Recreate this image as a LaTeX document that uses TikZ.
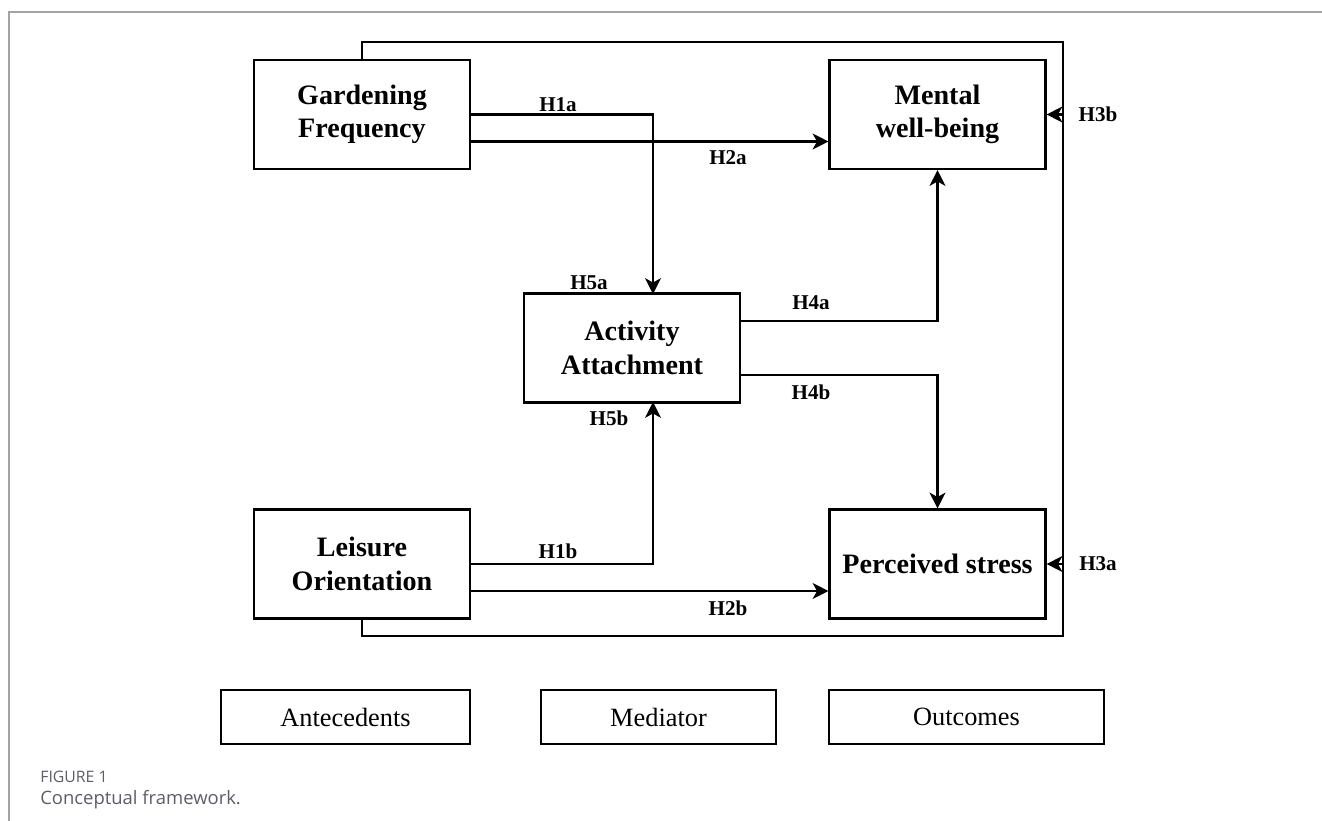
\documentclass[tikz,border=0pt]{standalone}
\usepackage{fontspec}
\setmainfont{Liberation Serif}
\newfontfamily\capfont{Open Sans}
\usetikzlibrary{arrows.meta}
\definecolor{framegray}{HTML}{A3A4AA}
\definecolor{capgray}{HTML}{5B5E69}
\begin{document}
\begin{tikzpicture}[x=0.02cm, y=-0.02cm,
    box/.style={draw, line width=1.2pt, minimum width=4.32cm, minimum height=2.18cm,
        align=center, font=\fontsize{16}{19}\selectfont\bfseries},
    legendbox/.style={draw, line width=1.2pt, minimum height=1.08cm,
        font=\fontsize{15}{18}\selectfont},
    hyp/.style={font=\fontsize{12}{14}\selectfont\bfseries},
    arr/.style={line width=1.2pt, -{Stealth[length=9pt, width=9pt, inset=2.5pt]}},
    link/.style={line width=1.2pt}]
    \useasboundingbox (0,0) rectangle (1322,821);

    % Figure frame
    \draw[framegray, line width=0.8pt] (1322,12) -- (9,12) -- (9,821);

    % Constructs
    \node[box] (gf) at (362,114.5) {Gardening\\Frequency};
    \node[box] (mwb) at (937.5,114.5) {Mental\\well-being};
    \node[box] (aa) at (632,348) {Activity\\Attachment};
    \node[box] (lo) at (362,564) {Leisure\\Orientation};
    \node[box] (ps) at (937.5,564) {Perceived stress};

    % Paths between constructs
    \draw[arr] (gf.east) -| (653,294) coordinate (aatop);
    \draw[arr] (gf.east) ++(0,27) coordinate (h2a) -- (h2a -| mwb.west);
    \draw[arr] (lo.east) -| (653,402) coordinate (aabot);
    \draw[arr] (lo.east) ++(0,27) coordinate (h2b) -- (h2b -| ps.west);
    \draw[arr] (aa.east) ++(0,-27) coordinate (h4a) -| (mwb.south);
    \draw[arr] (aa.east) ++(0,27) coordinate (h4b) -| (ps.north);

    % Direct loop to the outcomes
    \coordinate (tr) at (1063,42);
    \coordinate (br) at (1063,636);
    \draw[link] (gf.north) |- (tr) -- (br) -| (lo.south);
    \draw[arr] (tr |- mwb.east) -- (mwb.east);
    \draw[arr] (br |- ps.east) -- (ps.east);

    % Hypotheses
    \node[hyp] (l1a) at (558,105) {H1a};
    \node[hyp] (l2a) at (728,158) {H2a};
    \node[hyp] (l5a) at (589,283) {H5a};
    \node[hyp] (l5b) at (609,418) {H5b};
    \node[hyp] (l4a) at (811,303) {H4a};
    \node[hyp] (l4b) at (811,392) {H4b};
    \node[hyp] (l1b) at (558,551) {H1b};
    \node[hyp] (l2b) at (728,608) {H2b};
    \node[hyp] (l3b) at (1098,114) {H3b};
    \node[hyp] (l3a) at (1098,564) {H3a};

    % Legend
    \node[legendbox, minimum width=4.98cm] (ante) at (345.5,717) {Antecedents};
    \node[legendbox, minimum width=4.70cm] (medi) at (658.5,717) {Mediator};
    \node[legendbox, minimum width=5.50cm] (outc) at (966.5,717) {Outcomes};

    % Caption
    \node[anchor=west, inner sep=0pt, text=capgray, font=\capfont\fontsize{9}{11}\selectfont] (fig) at (40,777) {FIGURE 1};
    \node[anchor=west, inner sep=0pt, text=capgray, font=\capfont\fontsize{10.5}{12}\selectfont] (cap) at (40,800) {Conceptual framework.};
\end{tikzpicture}
\end{document}
